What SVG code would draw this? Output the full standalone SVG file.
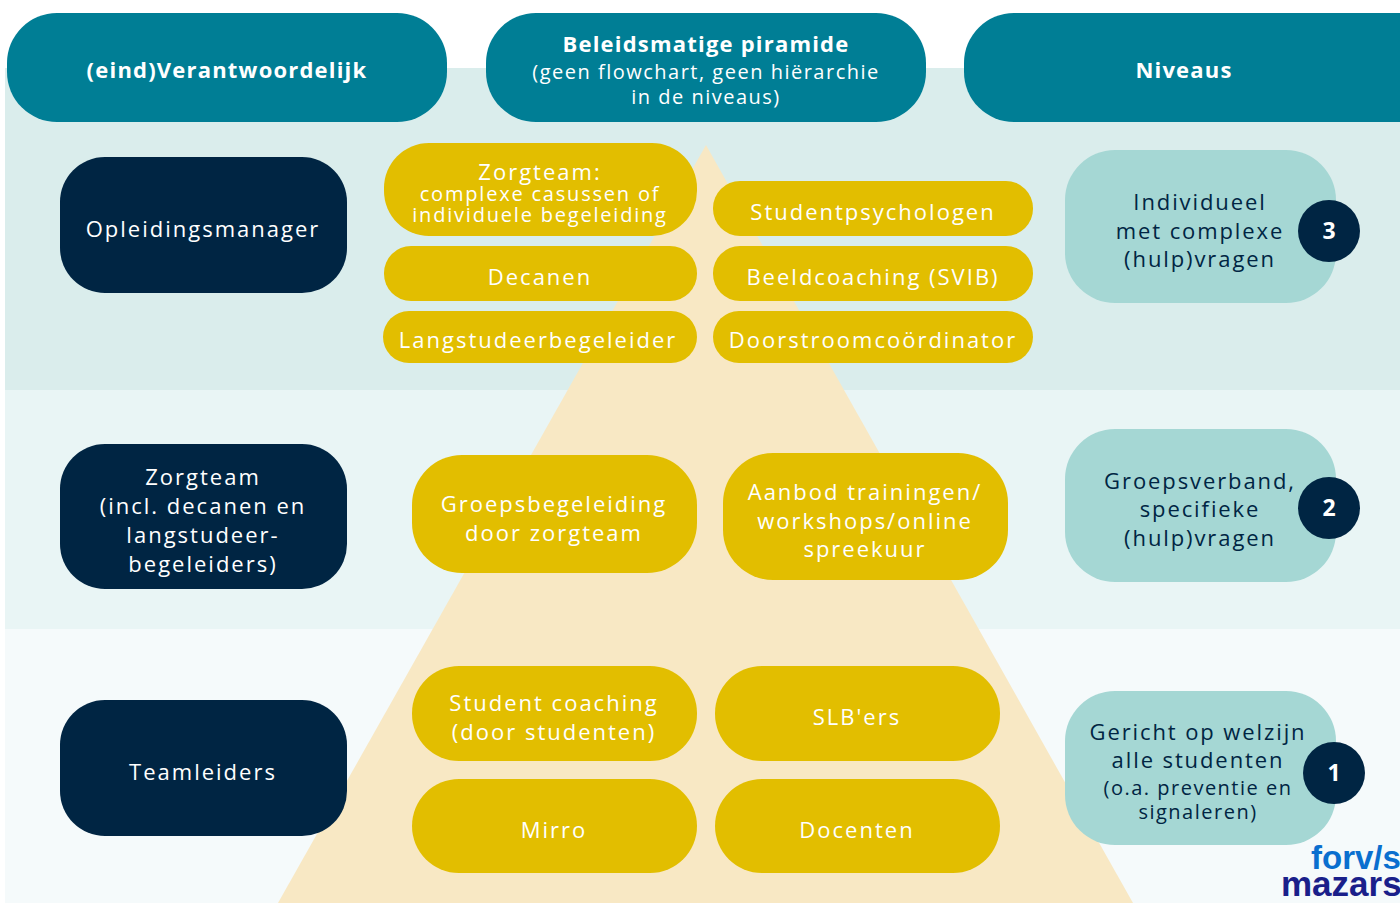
<svg xmlns="http://www.w3.org/2000/svg" width="1400" height="903" viewBox="0 0 1400 903">
<style>
.hdr{fill:#007E95}
.navy{fill:#002543}
.yel{fill:#E2BE00}
.lvl{fill:#A5D7D4}
text{font-family:"Open Sans","Noto Sans","Liberation Sans",sans-serif;text-anchor:middle}
.ht{fill:#fff;font-size:22px;font-weight:700;letter-spacing:1.2px}
.hs{fill:#fff;font-size:20px;letter-spacing:1.5px}
.wt{fill:#fff;font-size:22px;letter-spacing:2px}
.yt{fill:#fff;font-size:22px;letter-spacing:2px}
.ys{fill:#fff;font-size:20px;letter-spacing:1.8px}
.lt{fill:#002543;font-size:22px;letter-spacing:1.9px}
.ls{fill:#002543;font-size:20px;letter-spacing:1.5px}
.num{fill:#fff;font-size:23px;font-weight:700}
</style>
<rect x="0" y="0" width="1400" height="903" fill="#ffffff"/>
<g id="bands">
<rect x="5" y="68" width="1395" height="322" fill="#DAEDEC"/>
<rect x="5" y="390" width="1395" height="239" fill="#E9F5F5"/>
<rect x="5" y="629" width="1395" height="274" fill="#F5FAFB"/>
</g>
<polygon id="pyramid" points="706,145 1133,903 278,903" fill="#F8E8C4"/>
<g id="connectors"></g>
<g id="hdr-verantwoordelijk"><rect class="hdr" x="7" y="13" width="440" height="109" rx="50"/><text class="ht" x="227" y="78">(eind)Verantwoordelijk</text></g>
<g id="hdr-piramide"><rect class="hdr" x="486" y="13" width="440" height="109" rx="50"/><text class="ht" x="706" y="52">Beleidsmatige piramide</text><text class="hs" x="706" y="79">(geen flowchart, geen hiërarchie</text><text class="hs" x="706" y="104">in de niveaus)</text></g>
<g id="hdr-niveaus"><rect class="hdr" x="964" y="13" width="490" height="109" rx="50"/><text class="ht" x="1184" y="78">Niveaus</text></g>

<g id="opleidingsmanager"><rect class="navy" x="60" y="157" width="287" height="136" rx="45"/><text class="wt" x="203" y="237">Opleidingsmanager</text></g>
<g id="zorgteam-left"><rect class="navy" x="60" y="444" width="287" height="145" rx="45"/><text class="wt" x="203" y="485">Zorgteam</text><text class="wt" x="203" y="514">(incl. decanen en</text><text class="wt" x="203" y="543">langstudeer-</text><text class="wt" x="203" y="572">begeleiders)</text></g>
<g id="teamleiders"><rect class="navy" x="60" y="700" width="287" height="136" rx="45"/><text class="wt" x="203" y="780">Teamleiders</text></g>

<g id="zorgteam-complex"><rect class="yel" x="384" y="143" width="313" height="93" rx="45"/><text class="yt" x="540" y="180">Zorgteam:</text><text class="ys" x="540" y="201">complexe casussen of</text><text class="ys" x="540" y="222">individuele begeleiding</text></g>
<g id="decanen"><rect class="yel" x="384" y="246" width="313" height="55" rx="27"/><text class="yt" x="540" y="285">Decanen</text></g>
<g id="langstudeer"><rect class="yel" x="383" y="311" width="314" height="52" rx="26"/><text class="yt" x="538" y="348">Langstudeerbegeleider</text></g>
<g id="studentpsychologen"><rect class="yel" x="713" y="181" width="320" height="55" rx="27"/><text class="yt" x="873" y="220">Studentpsychologen</text></g>
<g id="beeldcoaching"><rect class="yel" x="713" y="246" width="320" height="55" rx="27"/><text class="yt" x="873" y="285">Beeldcoaching (SVIB)</text></g>
<g id="doorstroom"><rect class="yel" x="713" y="311" width="320" height="52" rx="26"/><text class="yt" x="873" y="348">Doorstroomcoördinator</text></g>
<g id="groepsbegeleiding"><rect class="yel" x="412" y="455" width="285" height="118" rx="50"/><text class="yt" x="554" y="512">Groepsbegeleiding</text><text class="yt" x="554" y="541">door zorgteam</text></g>
<g id="aanbod"><rect class="yel" x="723" y="453" width="285" height="127" rx="50"/><text class="yt" x="865" y="500">Aanbod trainingen/</text><text class="yt" x="865" y="529">workshops/online</text><text class="yt" x="865" y="557">spreekuur</text></g>
<g id="student-coaching"><rect class="yel" x="412" y="666" width="285" height="95" rx="47"/><text class="yt" x="554" y="711">Student coaching</text><text class="yt" x="554" y="740">(door studenten)</text></g>
<g id="slbers"><rect class="yel" x="715" y="666" width="285" height="95" rx="47"/><text class="yt" x="857" y="725">SLB'ers</text></g>
<g id="mirro"><rect class="yel" x="412" y="779" width="285" height="94" rx="47"/><text class="yt" x="554" y="838">Mirro</text></g>
<g id="docenten"><rect class="yel" x="715" y="779" width="285" height="94" rx="47"/><text class="yt" x="857" y="838">Docenten</text></g>

<g id="niveau-3"><rect class="lvl" x="1065" y="150" width="271" height="153" rx="50"/><text class="lt" x="1200" y="210">Individueel</text><text class="lt" x="1200" y="239">met complexe</text><text class="lt" x="1200" y="267">(hulp)vragen</text><circle class="navy" cx="1329" cy="231" r="31"/><text class="num" x="1329" y="239">3</text></g>
<g id="niveau-2"><rect class="lvl" x="1065" y="429" width="271" height="153" rx="50"/><text class="lt" x="1200" y="489">Groepsverband,</text><text class="lt" x="1200" y="517">specifieke</text><text class="lt" x="1200" y="546">(hulp)vragen</text><circle class="navy" cx="1329" cy="508" r="31"/><text class="num" x="1329" y="516">2</text></g>
<g id="niveau-1"><rect class="lvl" x="1065" y="691" width="271" height="154" rx="50"/><text class="lt" x="1198" y="740">Gericht op welzijn</text><text class="lt" x="1198" y="768">alle studenten</text><text class="ls" x="1198" y="795">(o.a. preventie en</text><text class="ls" x="1198" y="819">signaleren)</text><circle class="navy" cx="1334" cy="773" r="31"/><text class="num" x="1334" y="781">1</text></g>

<g id="logo">
<text x="1311" y="869" style="text-anchor:start;font-family:'Liberation Sans',sans-serif;font-weight:700;font-size:33px;fill:#0A6FCF">forv/s</text>
<text x="1281" y="896" style="text-anchor:start;font-family:'Liberation Sans',sans-serif;font-weight:700;font-size:35px;fill:#1A1F8A">mazars</text>
</g>
</svg>
